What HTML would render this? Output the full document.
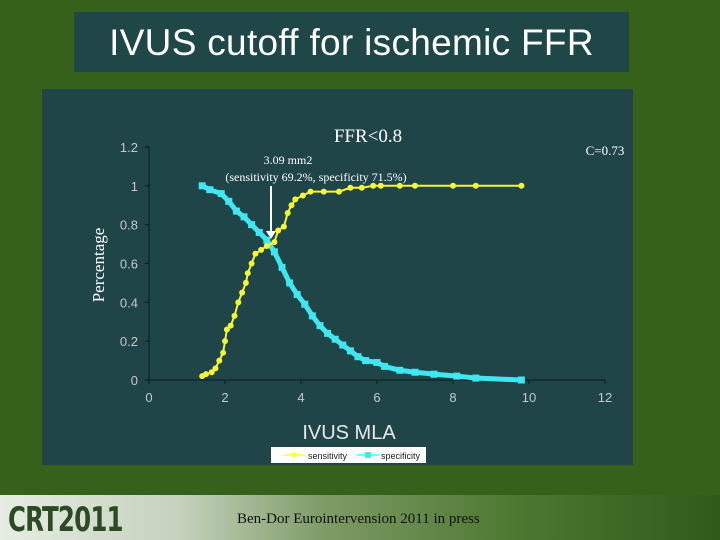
<!DOCTYPE html>
<html><head><meta charset="utf-8"><style>
body{margin:0;width:720px;height:540px;overflow:hidden;background:#36611b;position:relative;font-family:"Liberation Sans",sans-serif}
.abs{position:absolute}
</style></head><body>
<div class="abs" style="left:74px;top:12px;width:555px;height:60px;background:#1f4747;color:#fff;font-size:37px;text-align:center;line-height:62px;letter-spacing:0.3px">IVUS cutoff for ischemic FFR</div>
<div class="abs" style="left:42px;top:89px;width:591px;height:376px;background:#1f4549"></div>
<div class="abs" style="left:0;top:495px;width:720px;height:45px;background:linear-gradient(90deg,#e6ece2 0%,#c4d2bd 25%,#7e9b66 45%,#4f7a34 70%,#2f5a18 100%)"></div>
<div class="abs" style="left:8px;top:500px;font-size:34px;font-weight:bold;color:#2c4a25;font-family:'DejaVu Sans Condensed','Liberation Sans Narrow',sans-serif;letter-spacing:-1px;transform:scaleX(0.8);transform-origin:left">CRT2011</div>
<div class="abs" style="left:237px;top:511px;font-size:15px;font-family:'Liberation Serif',serif;color:#111">Ben-Dor Eurointervension 2011 in press</div>
<svg class="abs" style="left:0;top:0" width="720" height="540" id="chart">
<text x="368" y="142" fill="#fff" font-family="Liberation Serif" font-size="19" text-anchor="middle">FFR&lt;0.8</text>
<text x="605" y="155" fill="#fff" font-family="Liberation Serif" font-size="13" text-anchor="middle">C=0.73</text>
<text x="288" y="164" fill="#fff" font-family="Liberation Serif" font-size="12" text-anchor="middle">3.09 mm2</text>
<text x="316" y="181" fill="#fff" font-family="Liberation Serif" font-size="12" text-anchor="middle">(sensitivity 69.2%, specificity 71.5%)</text>
<line x1="271" y1="186" x2="271" y2="232" stroke="#fff" stroke-width="2"/>
<polygon points="266,231 276,231 271,239" fill="#fff"/>
<text transform="translate(104,265) rotate(-90)" fill="#fff" font-family="Liberation Serif" font-size="17" text-anchor="middle">Percentage</text>
<text x="349" y="439" fill="#e8e8e8" font-size="20" text-anchor="middle">IVUS MLA</text>
<g id="axes"></g><g id="marks"></g>
<rect x="271" y="447" width="155" height="16" fill="#fff"/>
<line x1="283" y1="455" x2="305" y2="455" stroke="#ffff66" stroke-width="2"/>
<circle cx="294" cy="455" r="2.5" fill="#ffff33"/>
<text x="308" y="459" font-size="9" fill="#222">sensitivity</text>
<line x1="357" y1="455" x2="379" y2="455" stroke="#66ffff" stroke-width="2"/>
<rect x="365" y="452" width="6" height="6" fill="#44e8f0"/>
<text x="381" y="459" font-size="9" fill="#222">specificity</text>
</svg>
<script>
const xTicks=[0,2,4,6,8,10,12];
const yTicks=[0,0.2,0.4,0.6,0.8,1,1.2];
const yTickLabels=["0","0.2","0.4","0.6","0.8","1","1.2"];
const sensX=[1.4,1.5,1.65,1.75,1.85,1.95,2.0,2.05,2.15,2.25,2.35,2.45,2.55,2.6,2.7,2.8,2.95,3.1,3.3,3.4,3.55,3.65,3.75,3.85,4.05,4.25,4.6,5.0,5.3,5.6,5.9,6.1,6.6,7.0,8.0,8.6,9.8];
const sensY=[0.02,0.03,0.04,0.06,0.1,0.14,0.2,0.26,0.28,0.33,0.4,0.45,0.5,0.55,0.6,0.65,0.67,0.69,0.71,0.77,0.79,0.86,0.9,0.93,0.95,0.97,0.97,0.97,0.99,0.99,1.0,1.0,1.0,1.0,1.0,1.0,1.0];
const specX=[1.4,1.6,1.9,2.1,2.3,2.5,2.7,2.9,3.1,3.3,3.5,3.7,3.9,4.1,4.3,4.5,4.7,4.9,5.1,5.3,5.5,5.7,6.0,6.2,6.6,7.0,7.5,8.1,8.6,9.8];
const specY=[1.0,0.98,0.96,0.92,0.87,0.84,0.8,0.76,0.72,0.66,0.58,0.5,0.44,0.39,0.33,0.28,0.24,0.21,0.18,0.15,0.12,0.1,0.09,0.07,0.05,0.04,0.03,0.02,0.01,0.0];
const NS="http://www.w3.org/2000/svg";
const sx=v=>149+v*38, sy=v=>380-v*194.2;
const axes=document.getElementById('axes'), marks=document.getElementById('marks');
function mk(tag,attrs,parent){const e=document.createElementNS(NS,tag);for(const k in attrs)e.setAttribute(k,attrs[k]);parent.appendChild(e);return e;}
let e=mk('line',{x1:sx(0),y1:sy(0),x2:sx(12),y2:sy(0),stroke:'#0a1a1a','stroke-width':1},axes);


e=mk('line',{x1:sx(0),y1:sy(0),x2:sx(0),y2:sy(1.2),stroke:'#0a1a1a','stroke-width':1},axes);


xTicks.forEach(t=>{
  mk('line',{x1:sx(t),y1:sy(0),x2:sx(t),y2:sy(0)+4,stroke:'#0a1a1a'},axes);
  const l=mk('text',{x:sx(t),y:402,fill:'#c8c8c8','font-size':13,'text-anchor':'middle'},axes);l.textContent=t;
  
  
});
yTicks.forEach((t,i)=>{
  mk('line',{x1:sx(0)-4,y1:sy(t),x2:sx(0),y2:sy(t),stroke:'#0a1a1a'},axes);
  const l=mk('text',{x:138,y:sy(t)+5,fill:'#c8c8c8','font-size':13,'text-anchor':'end'},axes);l.textContent=yTickLabels[i];
  
  
});
function series(xs,ys,color,sq,name){
  const p=mk('polyline',{points:xs.map((x,i)=>sx(x)+','+sy(ys[i])).join(' '),fill:'none',stroke:color,'stroke-width':sq?5:2,'stroke-linejoin':'round'},marks);
  
  
  xs.forEach((x,i)=>{
    let m;
    if(sq)m=mk('rect',{x:sx(x)-3.5,y:sy(ys[i])-3.5,width:7,height:7,fill:color},marks);
    else m=mk('circle',{cx:sx(x),cy:sy(ys[i]),r:3,fill:color},marks);
    
    
  });
}
series(specX,specY,'#40e6f0',true,'specificity');
series(sensX,sensY,'#f5f53a',false,'sensitivity');
</script>
</body></html>
